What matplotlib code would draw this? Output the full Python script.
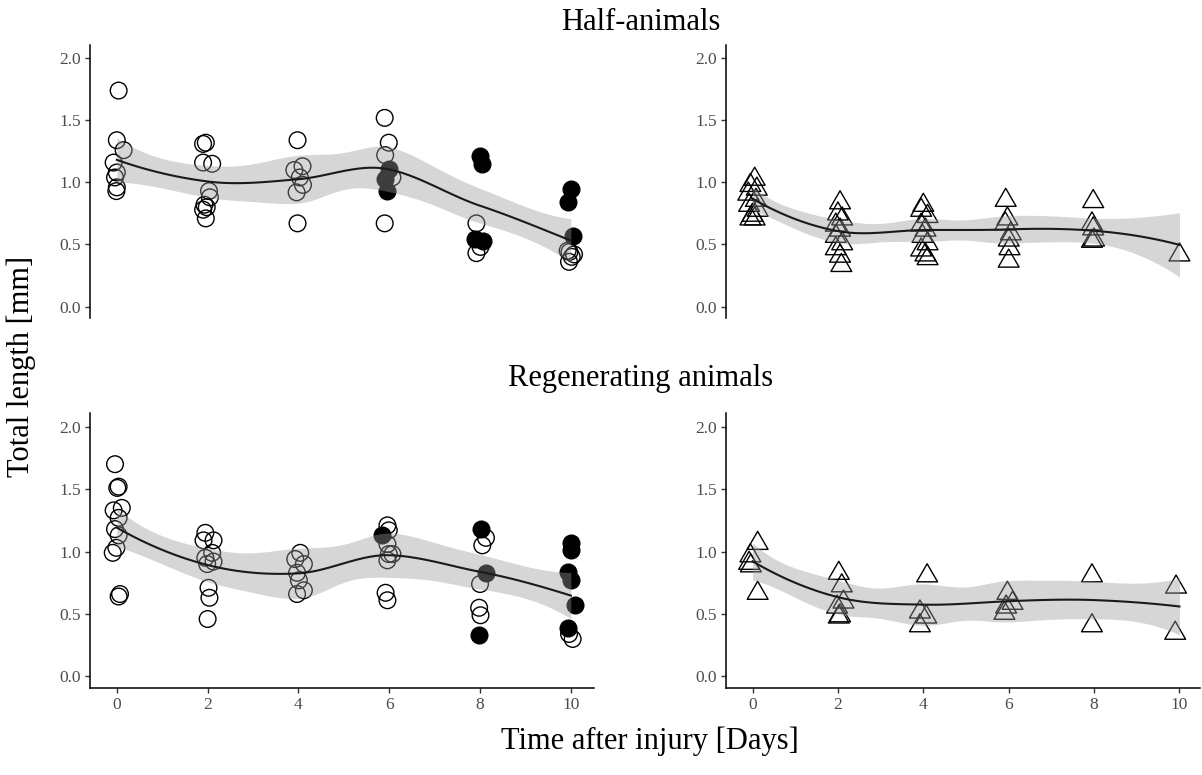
import matplotlib.pyplot as plt
from matplotlib.path import Path
import numpy as np

plt.rcParams['font.family'] = ['Liberation Serif', 'DejaVu Serif']

# Half-animals, circles (x = day incl. the jitter seen in the picture, y = mm)
half_circ_x = [0.04, 0.0, 0.15, -0.07, 0.0, -0.04, 0.0, -0.01,
               1.96, 1.90, 1.90, 2.10, 2.03, 1.93, 1.90, 1.96, 2.05, 1.98,
               3.98, 4.09, 3.91, 4.03, 4.10, 3.96, 3.98,
               5.90, 5.99, 5.91, 6.07, 5.90, 5.99, 5.91, 5.95,
               8.01, 8.04, 7.88, 8.07, 7.92, 8.01, 7.92,
               10.0, 9.93, 10.04, 9.93, 10.07, 9.96, 10.02, 9.97]
half_circ_y = [1.74, 1.34, 1.26, 1.16, 1.08, 1.04, 0.96, 0.93,
               1.32, 1.31, 1.16, 1.15, 0.93, 0.82, 0.78, 0.71, 0.88, 0.80,
               1.34, 1.13, 1.10, 1.04, 0.98, 0.92, 0.67,
               1.52, 1.32, 1.22, 1.04, 0.67, 1.11, 1.03, 0.93,
               1.21, 1.15, 0.54, 0.53, 0.67, 0.48, 0.43,
               0.95, 0.84, 0.57, 0.45, 0.42, 0.36, 0.40, 0.44]
half_circ_fill = [0, 0, 0, 0, 0, 0, 0, 0,
                  0, 0, 0, 0, 0, 0, 0, 0, 0, 0,
                  0, 0, 0, 0, 0, 0, 0,
                  0, 0, 0, 0, 0, 1, 1, 1,
                  1, 1, 1, 1, 0, 0, 0,
                  1, 1, 1, 0, 0, 0, 0, 0]

# Half-animals, triangles
half_tri_x = [0.05, -0.05, 0.10, -0.10, 0.08, -0.08, 0.12, 0.0, 0.05, -0.05,
              2.05, 2.0, 2.10, 1.95, 2.05, 1.95, 2.10, 1.95, 2.05, 2.08,
              4.0, 3.95, 4.10, 3.95, 4.05, 3.98, 4.10, 3.95, 4.05, 4.10,
              5.93, 5.97, 5.92, 6.05, 6.0, 6.02, 6.0,
              7.98, 7.95, 7.98, 8.0, 7.95,
              10.0]
half_tri_y = [1.05, 1.00, 0.97, 0.93, 0.88, 0.84, 0.80, 0.76, 0.73, 0.73,
              0.86, 0.77, 0.73, 0.68, 0.64, 0.59, 0.53, 0.49, 0.43, 0.355,
              0.84, 0.80, 0.75, 0.68, 0.64, 0.59, 0.53, 0.48, 0.44, 0.41,
              0.88, 0.73, 0.69, 0.61, 0.56, 0.49, 0.39,
              0.87, 0.69, 0.65, 0.56, 0.55,
              0.44]

# Regenerating animals, circles
regen_circ_x = [-0.04, 0.04, 0.01, -0.07, 0.11, 0.04, -0.04, 0.04, -0.01, -0.09, 0.07, 0.04,
                1.95, 1.91, 2.13, 2.10, 1.95, 2.13, 1.99, 2.02, 2.04, 2.0,
                4.04, 3.93, 4.12, 3.97, 4.01, 4.12, 3.97,
                5.96, 5.99, 5.96, 5.99, 6.07, 5.96, 5.92, 5.96, 5.85,
                8.03, 8.13, 7.98, 8.13, 8.05, 8.0, 7.98, 8.01,
                10.0, 10.0, 9.93, 10.0, 10.09, 9.94, 9.96, 10.04]
regen_circ_y = [1.70, 1.52, 1.51, 1.33, 1.35, 1.27, 1.18, 1.13, 1.03, 0.99, 0.66, 0.64,
                1.15, 1.09, 1.09, 0.99, 0.95, 0.92, 0.90, 0.71, 0.63, 0.46,
                0.99, 0.94, 0.90, 0.83, 0.77, 0.69, 0.66,
                1.21, 1.17, 1.06, 0.98, 0.98, 0.93, 0.67, 0.61, 1.13,
                1.18, 0.83, 0.33, 1.11, 1.05, 0.74, 0.55, 0.49,
                1.07, 1.01, 0.84, 0.77, 0.57, 0.39, 0.34, 0.30]
regen_circ_fill = [0, 0, 0, 0, 0, 0, 0, 0, 0, 0, 0, 0,
                   0, 0, 0, 0, 0, 0, 0, 0, 0, 0,
                   0, 0, 0, 0, 0, 0, 0,
                   0, 0, 0, 0, 0, 0, 0, 0, 1,
                   1, 1, 1, 0, 0, 0, 0, 0,
                   1, 1, 1, 1, 1, 1, 0, 0]

# Regenerating animals, triangles
regen_tri_x = [0.12, -0.05, -0.08, -0.04, 0.12,
               2.02, 2.09, 2.13, 1.98, 2.05, 2.02,
               4.09, 3.92, 4.07, 3.92,
               5.97, 6.09, 5.94, 5.90,
               7.95, 7.95,
               9.92, 9.90]
regen_tri_y = [1.09, 0.99, 0.93, 0.91, 0.69,
               0.85, 0.75, 0.62, 0.58, 0.51, 0.50,
               0.83, 0.54, 0.50, 0.43,
               0.69, 0.61, 0.58, 0.53,
               0.83, 0.43,
               0.74, 0.37]

day_ticks = [0, 2, 4, 6, 8, 10]
length_ticks = [0.0, 0.5, 1.0, 1.5, 2.0]


def kd_vertices(x, fc):
    # 1-d version of the cell splitting that R's loess uses for interpolation
    xs = np.sort(x)
    mu = 0.005 * (xs[-1] - xs[0])
    verts = [xs[0] - mu, xs[-1] + mu]

    def split(a, b, pts):
        if len(pts) <= fc:
            return
        m = (len(pts) + 1) // 2 - 1
        off = 0
        while 0 <= m + off < len(pts) - 1:
            if pts[m + off] != pts[m + off + 1]:
                m += off
                break
            off = -off if off > 0 else -off + 1
        t = pts[m]
        if t == a or t == b:
            return
        verts.append(t)
        split(a, t, pts[pts <= t])
        split(t, b, pts[pts > t])

    split(verts[0], verts[1], xs)
    return np.array(sorted(verts))


def loess(x, y, grid, span=0.75):
    # local quadratic loess (tricube weights) + 95% band, as geom_smooth does
    n = len(x)
    q = int(np.floor(n * span))

    def rows(x0):
        d = np.abs(x - x0)
        h = np.sort(d)[q - 1]
        w = np.clip(1 - (d / h) ** 3, 0, None) ** 3
        X = np.column_stack([np.ones(n), x - x0, (x - x0) ** 2])
        A = X.T @ (w[:, None] * X)
        B = np.linalg.solve(A, X.T * w)
        return B[0], B[1]

    vx = kd_vertices(x, int(np.floor(n * span * 0.2)))
    vl, vd = zip(*[rows(v) for v in vx])
    vl, vd = np.array(vl), np.array(vd)

    def interp(pts):
        out = []
        for g in pts:
            k = min(np.searchsorted(vx, g, side='right') - 1, len(vx) - 2)
            hh = vx[k + 1] - vx[k]
            t = (g - vx[k]) / hh
            h00 = 2 * t ** 3 - 3 * t ** 2 + 1
            h10 = t ** 3 - 2 * t ** 2 + t
            h01 = -2 * t ** 3 + 3 * t ** 2
            h11 = t ** 3 - t ** 2
            out.append(h00 * vl[k] + h10 * hh * vd[k] + h01 * vl[k + 1] + h11 * hh * vd[k + 1])
        return np.array(out)

    L = interp(x)
    res = y - L @ y
    M = (np.eye(n) - L).T @ (np.eye(n) - L)
    d1 = np.trace(M)
    d2 = np.trace(M @ M)
    s = np.sqrt(np.sum(res ** 2) / d1)
    df = d1 ** 2 / d2
    z = 1.959964
    t = (z + (z ** 3 + z) / (4 * df) + (5 * z ** 5 + 16 * z ** 3 + 3 * z) / (96 * df ** 2)
         + (3 * z ** 7 + 19 * z ** 5 + 17 * z ** 3 - 15 * z) / (384 * df ** 3))
    G = interp(grid)
    fit = G @ y
    se = s * np.sqrt(np.sum(G ** 2, axis=1))
    return fit, fit - t * se, fit + t * se


tri = Path([(0, 0.866), (-1, -0.866), (1, -0.866), (0, 0.866)], closed=True)


def panel(ax, x, y, fill, marker, size):
    x = np.asarray(x, float)
    y = np.asarray(y, float)
    fill = np.asarray(fill, bool)
    ax.scatter(x[~fill], y[~fill], s=size, marker=marker, facecolors='none',
               edgecolors='black', linewidths=1.0, zorder=2)
    if fill.any():
        ax.scatter(x[fill], y[fill], s=size, marker=marker, facecolors='black',
                   edgecolors='black', linewidths=1.0, zorder=2)
    day = 2 * np.round(x / 2)
    grid = np.linspace(day.min(), day.max(), 80)
    fit, lo, hi = loess(day, y, grid)
    ax.fill_between(grid, lo, hi, color='#999999', alpha=0.4, lw=0, zorder=3)
    ax.plot(grid, fit, color='#1a1a1a', lw=1.5, zorder=4)


fig = plt.figure(figsize=(12.02, 7.75), dpi=100)
ax_tl = fig.add_axes([0.0749, 0.5893, 0.4189, 0.3526])
ax_tr = fig.add_axes([0.6044, 0.5893, 0.3939, 0.3526])
ax_bl = fig.add_axes([0.0749, 0.1119, 0.4189, 0.3547])
ax_br = fig.add_axes([0.6044, 0.1119, 0.3939, 0.3547])

panel(ax_tl, half_circ_x, half_circ_y, half_circ_fill, 'o', 144)
panel(ax_tr, half_tri_x, half_tri_y, [0] * len(half_tri_x), tri, 225)
panel(ax_bl, regen_circ_x, regen_circ_y, regen_circ_fill, 'o', 144)
panel(ax_br, regen_tri_x, regen_tri_y, [0] * len(regen_tri_x), tri, 225)

for ax in [ax_tl, ax_tr, ax_bl, ax_br]:
    ax.set_ylim(-0.095, 2.107)
    ax.set_yticks(length_ticks)
    ax.set_yticklabels(['%.1f' % v for v in length_ticks])
    ax.set_xticks(day_ticks)
    ax.spines[['top', 'right']].set_visible(False)
    ax.spines[['left', 'bottom']].set_linewidth(1.1)
    ax.tick_params(direction='out', length=3.6, width=1.0, color='#333333',
                   labelcolor='#4D4D4D', labelsize=12.5, pad=3)

ax_tl.set_xlim(-0.59, 10.5)
ax_bl.set_xlim(-0.59, 10.5)
ax_tr.set_xlim(-0.61, 10.48)
ax_br.set_xlim(-0.61, 10.48)

for ax in [ax_tl, ax_tr]:
    ax.spines['bottom'].set_visible(False)
    ax.tick_params(axis='x', bottom=False, labelbottom=False)

fig.text(0.533, 0.971, 'Half-animals', ha='center', va='center', fontsize=22)
fig.text(0.533, 0.512, 'Regenerating animals', ha='center', va='center', fontsize=22)
fig.text(0.541, 0.043, 'Time after injury [Days]', ha='center', va='center', fontsize=22)
fig.text(0.018, 0.527, 'Total length [mm]', ha='center', va='center', rotation=90, fontsize=22)

fig.savefig('out.png', dpi=100)
